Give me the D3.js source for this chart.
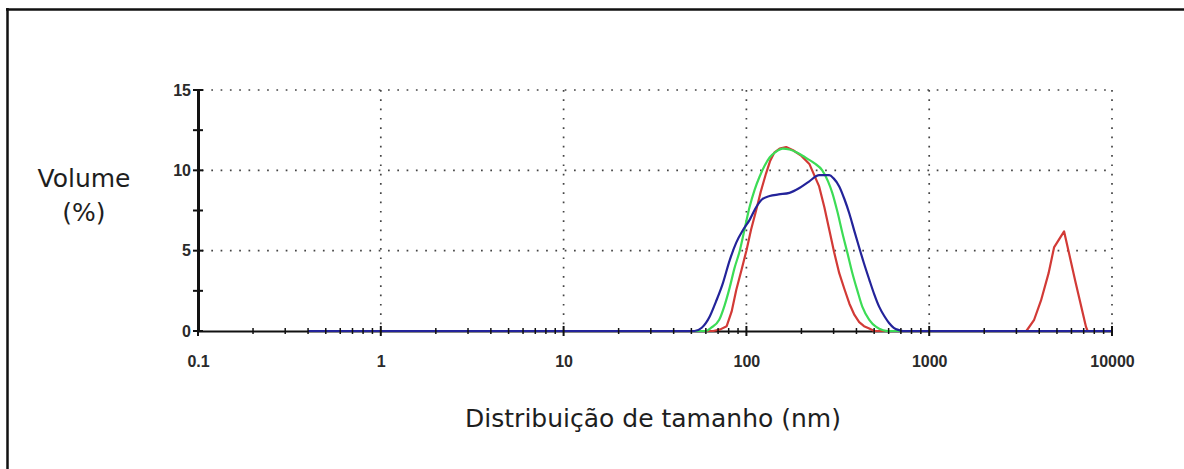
<!DOCTYPE html>
<html>
<head>
<meta charset="utf-8">
<script src="https://cdn.jsdelivr.net/npm/d3@7"></script>
<style>
  html, body { margin: 0; padding: 0; background: #fff; }
  svg { display: block; }
</style>
</head>
<body>
<svg id="chart" width="1184" height="469"></svg>
<script>
// Size distribution by volume: [size (nm), volume (%)]
const seriesRed = [
  [0.4,0],[66,0],[72,0.1],[78,0.3],[83,1.2],[88,2.55],[94,3.8],[100,5.0],[106,6.3],[113,7.5],
  [120,8.7],[128,9.8],[135,10.6],[142,11.1],[152,11.35],[165,11.45],[180,11.25],[200,10.9],
  [221,10.4],[235,9.7],[250,9.0],[267,7.7],[284,6.3],[302,4.9],[322,3.6],[344,2.6],[366,1.7],
  [390,1.0],[414,0.55],[440,0.3],[470,0.15],[500,0],[3400,0],[3750,0.7],[4090,1.9],[4500,3.6],
  [4820,5.2],[5470,6.2],[6300,3.1],[7210,0.25],[7350,0],[10000,0]
];
const seriesGreen = [
  [0.4,0],[60,0],[64,0.2],[71,0.7],[76,1.6],[81,2.7],[86,3.9],[92,5.0],[98,6.4],[104,7.7],
  [111,8.8],[118,9.6],[126,10.3],[134,10.8],[145,11.15],[158,11.35],[172,11.3],[190,11.1],
  [210,10.8],[235,10.45],[260,10.0],[280,9.3],[295,8.6],[315,7.4],[335,6.1],[358,4.8],[380,3.6],
  [405,2.5],[431,1.5],[470,0.7],[513,0.25],[560,0.05],[600,0],[10000,0]
];
const seriesBlue = [
  [0.4,0],[52,0],[57,0.2],[63,0.9],[68,1.8],[74,2.9],[81,4.4],[88,5.5],[96,6.3],[104,6.9],
  [113,7.7],[122,8.2],[134,8.4],[150,8.5],[172,8.6],[195,8.9],[220,9.3],[250,9.7],[284,9.7],
  [300,9.5],[322,9.0],[344,8.2],[366,7.3],[390,6.2],[414,5.2],[440,4.2],[470,3.2],[500,2.3],
  [533,1.5],[570,0.9],[603,0.5],[640,0.2],[682,0.06],[720,0],[10000,0]
];

const xTickValues = [0.1, 1, 10, 100, 1000, 10000];
const xTickLabels = ["0.1", "1", "10", "100", "1000", "10000"];
const yTickValues = [0, 5, 10, 15];
const yMinorValues = [2.5, 7.5, 12.5];
const yLabel = ["Volume", "(%)"];
const xLabel = "Distribuição de tamanho (nm)";

const svg = d3.select("#chart");

const x = d3.scaleLog().domain([0.1, 10000]).range([198, 1112]);
const y = d3.scaleLinear().domain([0, 15]).range([331, 90]);

// frame edges
svg.append("line").attr("x1", 6).attr("x2", 1184).attr("y1", 9.5).attr("y2", 9.5)
  .attr("stroke", "#111").attr("stroke-width", 2.5);
svg.append("line").attr("x1", 7.5).attr("x2", 7.5).attr("y1", 8).attr("y2", 469)
  .attr("stroke", "#111").attr("stroke-width", 2.5);

// dotted grid
const grid = svg.append("g").attr("stroke", "#444").attr("stroke-width", 1.7)
  .attr("stroke-dasharray", "1.7,7.6");
grid.selectAll("line.h").data(yTickValues.filter(d => d > 0)).join("line")
  .attr("class", "h")
  .attr("x1", x(0.1) + 4).attr("x2", x(10000))
  .attr("y1", d => y(d)).attr("y2", d => y(d));
grid.selectAll("line.v").data(xTickValues.filter(d => d > 0.1)).join("line")
  .attr("class", "v")
  .attr("x1", d => x(d)).attr("x2", d => x(d))
  .attr("y1", y(15)).attr("y2", y(0));

// x axis
const xMinor = [];
for (let e = -1; e < 4; e++) {
  for (let m = 2; m <= 9; m++) xMinor.push(m * Math.pow(10, e));
}
const labelFont = "Liberation Sans, Arial, sans-serif";
const xAxis = d3.axisBottom(x).tickValues(xTickValues).tickSize(0)
  .tickFormat((d, i) => xTickLabels[i]);
const gx = svg.append("g").attr("transform", `translate(0,${y(0)})`).call(xAxis);
gx.select(".domain").attr("stroke", "#111").attr("stroke-width", 2.2);
gx.selectAll("text").attr("dy", null).attr("y", 36)
  .attr("font-family", labelFont)
  .attr("font-size", 16).attr("font-weight", "bold").attr("fill", "#2a2a2a");

// y axis
const yAxis = d3.axisLeft(y).tickValues(yTickValues).tickSize(0).tickPadding(7);
const gy = svg.append("g").attr("transform", `translate(${x(0.1)},0)`).call(yAxis);
gy.select(".domain").attr("stroke", "#111").attr("stroke-width", 3);
gy.selectAll("text")
  .attr("font-family", labelFont)
  .attr("font-size", 16).attr("font-weight", "bold").attr("fill", "#2a2a2a");

// data lines: smooth for the main peaks, straight segments for the red trace
const smooth = d3.line().x(d => x(d[0])).y(d => y(d[1])).curve(d3.curveMonotoneX);
const straight = d3.line().x(d => x(d[0])).y(d => y(d[1]));
const series = [
  { data: seriesRed, color: "#d23a36", gen: straight },
  { data: seriesGreen, color: "#3cdc55", gen: smooth },
  { data: seriesBlue, color: "#23239a", gen: smooth }
];
svg.append("g").selectAll("path").data(series).join("path")
  .attr("d", d => d.gen(d.data))
  .attr("fill", "none")
  .attr("stroke", d => d.color)
  .attr("stroke-width", 2.2)
  .attr("stroke-linejoin", "round");

// tick marks on top of the lines
const ticks = svg.append("g").attr("stroke", "#111");
ticks.selectAll("line.xm").data(xMinor).join("line")
  .attr("class", "xm").attr("stroke-width", 1.5)
  .attr("x1", d => x(d)).attr("x2", d => x(d))
  .attr("y1", y(0) - 3).attr("y2", y(0) + 3);
ticks.selectAll("line.xM").data(xTickValues).join("line")
  .attr("class", "xM").attr("stroke-width", 2)
  .attr("x1", d => x(d)).attr("x2", d => x(d))
  .attr("y1", y(0) - 5).attr("y2", y(0) + 5);
ticks.selectAll("line.y").data(yTickValues.concat(yMinorValues)).join("line")
  .attr("class", "y").attr("stroke-width", 2)
  .attr("x1", x(0.1) - 5).attr("x2", x(0.1) + 5)
  .attr("y1", d => y(d)).attr("y2", d => y(d));

// axis titles
const titleFont = "DejaVu Sans, Verdana, sans-serif";
svg.append("text").attr("x", 84).attr("y", 187).attr("text-anchor", "middle")
  .attr("font-family", titleFont).attr("font-size", 25).attr("fill", "#1e1e1e")
  .text(yLabel[0]);
svg.append("text").attr("x", 84).attr("y", 221).attr("text-anchor", "middle")
  .attr("font-family", titleFont).attr("font-size", 25).attr("fill", "#1e1e1e")
  .text(yLabel[1]);
svg.append("text").attr("x", 653).attr("y", 427).attr("text-anchor", "middle")
  .attr("font-family", titleFont).attr("font-size", 25).attr("fill", "#1e1e1e")
  .text(xLabel);
</script>
</body>
</html>
